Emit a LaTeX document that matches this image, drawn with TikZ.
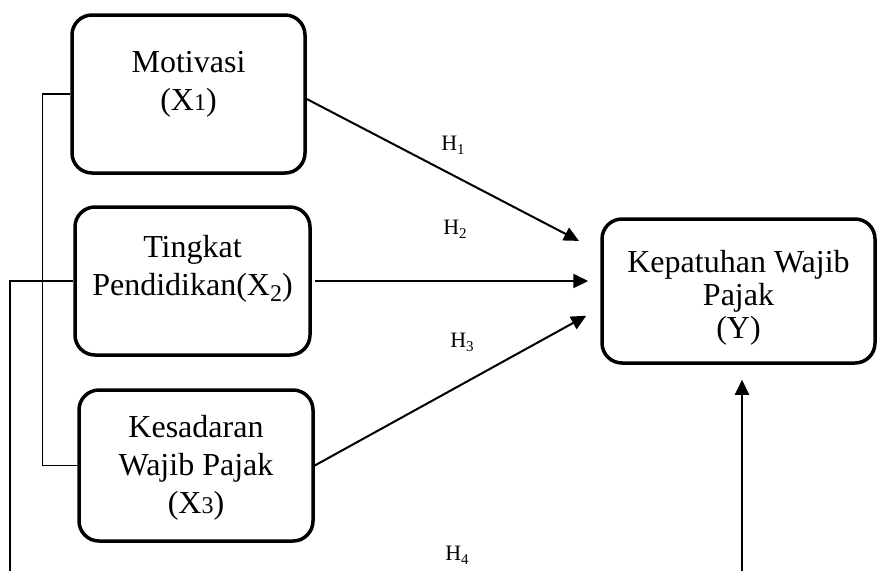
\documentclass[tikz,border=0pt]{standalone}
\usepackage{fontspec}
\setmainfont{Liberation Serif}
\usepackage{tikz}
\usetikzlibrary{arrows.meta}
\usetikzlibrary{calc}
\tikzstyle{box}=[rectangle, rounded corners=20pt, draw=black, line width=3.5pt,
                 align=center, inner sep=0pt, font=\fontsize{32}{38}\selectfont]
\tikzstyle{arr}=[line width=2pt, -{Triangle[length=15pt,width=14pt]}]
\tikzstyle{brk}=[line width=1.5pt]
\tikzstyle{hlab}=[inner sep=0pt, font=\fontsize{22}{26}\selectfont]
\newcommand{\xsub}[1]{{\fontsize{24}{24}\selectfont #1}}
\newcommand{\xlow}[1]{\raisebox{-6pt}{\fontsize{24}{24}\selectfont #1}}
\newcommand{\hsub}[1]{\raisebox{-4pt}{\fontsize{15}{15}\selectfont #1}}

\begin{document}
\begin{tikzpicture}[x=1pt, y=-1pt]
    \useasboundingbox (0,0) rectangle (877,571);
    \node[box, minimum width=233pt, minimum height=158pt, text height=50pt,
          text depth=18pt] (mot) at (188.5,94) {Motivasi\\(X\xsub{1})};
    \node[box, minimum width=235pt, minimum height=148pt, text height=48pt,
          text depth=20pt] (tp) at (192.5,281) {Tingkat\\Pendidikan(X\xlow{2})};
    \node[box, minimum width=234pt, minimum height=151pt, text height=100pt,
          text depth=5pt] (ks) at (196,465.5) {Kesadaran\\Wajib Pajak\\(X\xsub{3})};
    \node[box, minimum width=273pt, minimum height=144pt, text height=100pt,
          text depth=6pt, font=\fontsize{32}{33}\selectfont] (kp) at (738.5,291)
          {Kepatuhan Wajib\\Pajak\\(Y)};
    \node[hlab] (h1) at (453,145) {H\hsub{1}};
    \node[hlab] (h2) at (455,229) {H\hsub{2}};
    \node[hlab] (h3) at (462,342) {H\hsub{3}};
    \node[hlab] (h4) at (457,555) {H\hsub{4}};
    \coordinate (lb) at (10,571);
    \coordinate (yb) at (742,571);
    \draw[arr, shorten >=24pt] ([yshift=-5pt]mot.east) -- ([yshift=39pt]kp.west);
    \draw[arr, shorten <=3pt, shorten >=12pt] (tp.east) -- (tp.east -| kp.west);
    \draw[arr, shorten >=16pt] (ks.east) -- ([yshift=-17pt]kp.west);
    \draw[arr, shorten >=15pt] (yb) -- (yb |- kp.south);
    \draw[brk] (mot.west) -- ++(-28,0) |- (ks.west);
    \draw[brk] (tp.west) -| (lb);
    \end{tikzpicture}
\end{document}
